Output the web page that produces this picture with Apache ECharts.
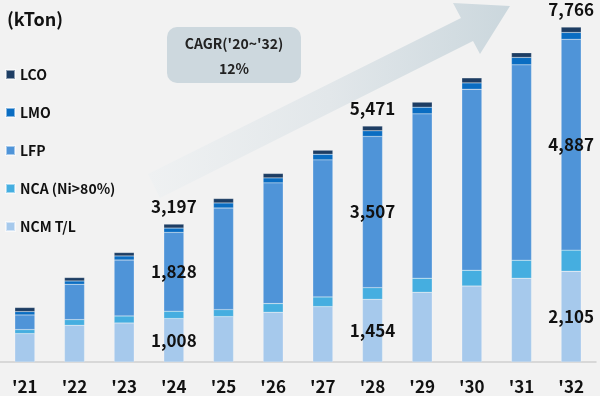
<!DOCTYPE html>
<html>
<head>
<meta charset="utf-8">
<script src="https://cdn.jsdelivr.net/npm/echarts@6/dist/echarts.min.js"></script>
<style>
  html, body { margin: 0; padding: 0; background: #f2f2f2; }
  #chart { width: 600px; height: 396px; }
</style>
</head>
<body>
<div id="chart"></div>
<script>
// 연도 / 소재별 수요 (kTon)
var years = ["'21", "'22", "'23", "'24", "'25", "'26", "'27", "'28", "'29", "'30", "'31", "'32"];
var ncm = [659, 851, 905, 1008, 1053, 1153, 1285, 1454, 1617, 1763, 1942, 2105];
var nca = [93, 132, 162, 170, 162, 202, 223, 270, 325, 364, 418, 490];
var lfp = [339, 819, 1299, 1828, 2357, 2798, 3178, 3507, 3812, 4199, 4531, 4887];
var lmo = [79, 77, 93, 100, 116, 116, 132, 131, 155, 146, 172, 160];
var lco = [93, 79, 79, 91, 102, 102, 93, 109, 116, 116, 107, 124];
var labelYears = [3, 7, 11]; // '24, '28, '32 만 라벨 표시

var totals = years.map(function (y, i) {
  return ncm[i] + nca[i] + lfp[i] + lmo[i] + lco[i];
});

var FONT = '"Noto Sans CJK KR", "Noto Sans", sans-serif';
var labelStyle = {
  color: '#111',
  fontSize: 17,
  fontWeight: 'bold',
  fontFamily: FONT
};

function withLabels(arr, pos) {
  return arr.map(function (v, i) {
    if (labelYears.indexOf(i) < 0) return v;
    return {
      value: v,
      label: Object.assign({
        show: true,
        position: pos,
        formatter: function (p) { return echarts.format.addCommas(p.value); }
      }, labelStyle)
    };
  });
}

function makeSeries(name, data, color, pos) {
  return {
    name: name,
    type: 'bar',
    stack: 'total',
    barWidth: 20,
    itemStyle: { color: color, borderColor: 'rgba(255,255,255,0.5)', borderWidth: 0.4 },
    label: { show: false },
    emphasis: { disabled: true },
    data: pos ? withLabels(data, pos) : data
  };
}

var lcoSeries = makeSeries('LCO', lco, '#1d3d63', null);
lcoSeries.data = lco.map(function (v, i) {
  if (labelYears.indexOf(i) < 0) return v;
  return {
    value: v,
    label: Object.assign({
      show: true,
      position: 'top',
      distance: 9,
      formatter: function () { return echarts.format.addCommas(totals[i]); }
    }, labelStyle)
  };
});

var chart = echarts.init(document.getElementById('chart'));
chart.setOption({
  backgroundColor: '#f2f2f2',
  animation: false,
  textStyle: { fontFamily: FONT },
  title: {
    text: '(kTon)',
    left: 2,
    top: 5,
    textStyle: { fontSize: 18, fontWeight: 'bold', color: '#111', fontFamily: FONT }
  },
  legend: {
    orient: 'vertical',
    left: 0,
    top: 62,
    itemWidth: 9,
    itemHeight: 9,
    itemGap: 23,
    icon: 'rect',
    data: ['LCO', 'LMO', 'LFP', 'NCA (Ni>80%)', 'NCM T/L'],
    textStyle: { fontSize: 14, fontWeight: 'bold', color: '#111', lineHeight: 15, fontFamily: FONT }
  },
  grid: { left: -3, right: 4, top: 17, bottom: 34 },
  xAxis: {
    type: 'category',
    data: years,
    axisLine: { lineStyle: { color: '#cfcfcf', width: 1.5 } },
    axisTick: { show: false },
    axisLabel: { fontSize: 17, fontWeight: 'bold', color: '#111', margin: 16, fontFamily: FONT }
  },
  yAxis: { type: 'value', min: 0, max: 8000, show: false, splitLine: { show: false } },
  graphic: [
    {
      type: 'polygon',
      z: -1,
      shape: { points: [[148, 174], [461, 18], [453, 3], [510, 6], [480, 54], [473, 41], [160, 198]] },
      style: {
        fill: new echarts.graphic.LinearGradient(0, 0, 1, 0, [
          { offset: 0, color: '#eff1f2' },
          { offset: 0.5, color: '#e2e7ea' },
          { offset: 1, color: '#cbd7dd' }
        ])
      }
    },
    {
      type: 'rect',
      z: -1,
      shape: { x: 167, y: 27, width: 134, height: 56, r: 10 },
      style: { fill: '#cdd8de' }
    },
    {
      type: 'text',
      x: 234, y: 44,
      style: { text: "CAGR('20~'32)", fill: '#222', font: 'bold 14px ' + FONT, align: 'center', verticalAlign: 'middle' }
    },
    {
      type: 'text',
      x: 234, y: 69,
      style: { text: '12%', fill: '#222', font: 'bold 14px ' + FONT, align: 'center', verticalAlign: 'middle' }
    }
  ],
  series: [
    makeSeries('NCM T/L', ncm, '#a6c9ec', 'inside'),
    makeSeries('NCA (Ni>80%)', nca, '#45aee0', null),
    makeSeries('LFP', lfp, '#4f94d8', 'inside'),
    makeSeries('LMO', lmo, '#0a6dc2', null),
    lcoSeries
  ]
});
</script>
</body>
</html>
